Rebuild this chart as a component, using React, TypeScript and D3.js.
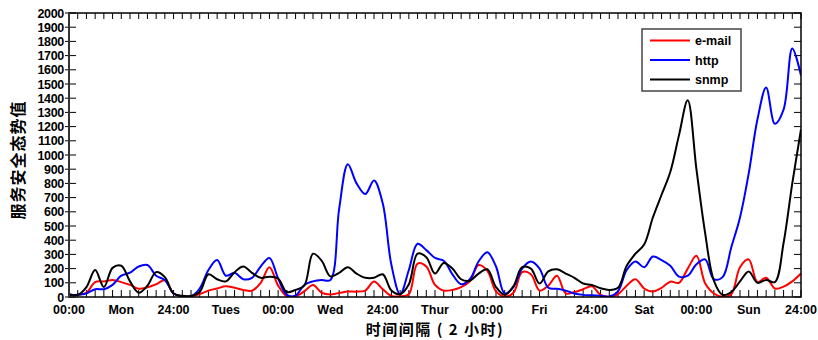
import React from "react";
import * as d3 from "d3";

const xTickLabels = ["00:00", "Mon", "24:00", "Tues", "00:00", "Wed", "24:00", "Thur", "00:00", "Fri", "24:00", "Sat", "00:00", "Sun", "24:00"];
const yTicks = d3.range(0, 2001, 100);
const seriesNames = ["e-mail", "http", "snmp"];
const seriesColors = ["#ff0000", "#0000ff", "#000000"];

const email = [15, 15, 30, 105, 110, 120, 105, 85, 58, 68, 90, 118, 25, 5, 5, 20, 45, 60, 75, 65, 50, 45, 100, 210, 80, 5, 5, 40, 85, 30, 18, 28, 38, 38, 45, 110, 55, 8, 5, 20, 235, 215, 85, 45, 50, 70, 110, 225, 185, 40, 3, 30, 175, 160, 45, 80, 150, 25, 35, 55, 75, 15, 2, 20, 80, 125, 60, 38, 65, 108, 100, 200, 290, 97, 25, 2, 20, 210, 265, 105, 135, 60, 73, 110, 165];
const http = [15, 15, 25, 55, 55, 85, 150, 172, 215, 225, 150, 120, 25, 5, 5, 60, 190, 260, 150, 170, 125, 135, 215, 275, 130, 15, 10, 85, 110, 120, 120, 620, 935, 800, 725, 820, 660, 225, 20, 190, 375, 330, 275, 255, 160, 90, 125, 250, 315, 215, 25, 70, 200, 250, 200, 65, 58, 45, 25, 15, 12, 8, 3, 40, 190, 250, 210, 285, 260, 220, 143, 150, 230, 265, 125, 140, 350, 560, 870, 1250, 1475, 1220, 1320, 1750, 1560];
const snmp = [20, 15, 70, 190, 70, 205, 220, 110, 30, 80, 175, 140, 25, 8, 8, 35, 160, 125, 110, 175, 215, 170, 135, 143, 130, 35, 50, 80, 305, 255, 145, 170, 210, 165, 135, 135, 160, 45, 20, 90, 305, 280, 165, 240, 200, 125, 115, 165, 195, 70, 15, 75, 210, 200, 95, 180, 195, 165, 135, 95, 85, 62, 50, 65, 220, 305, 370, 560, 720, 880, 1140, 1385, 900, 450, 115, 15, 35, 110, 180, 100, 120, 105, 380, 800, 1180];

const W = 818, H = 340;
const L = 69, R = 801, T = 13, B = 297;
const FONT = "'Liberation Sans', Arial, sans-serif";
const CJK = "'Noto Sans CJK SC', sans-serif";

export default function App() {
  const x = d3.scaleLinear().domain([0, 84]).range([L, R]);
  const y = d3.scaleLinear().domain([0, 2000]).range([B, T]);
  const line = d3.line<number>().x((_, i) => x(i)).y((d) => y(d)).curve(d3.curveCatmullRom.alpha(0.5));
  const data = [email, http, snmp];
  const minor = d3.range(0, 85);
  return (
    <svg width={W} height={H} style={{ position: "absolute", left: 0, top: 0, background: "#fff" }}>
      <defs>
        <clipPath id="plot"><rect x={L} y={T} width={R - L} height={B - T} /></clipPath>
      </defs>
      <rect x={0} y={0} width={W} height={H} fill="#fff" />
      {minor.map((i) => (
        <g key={"mt" + i}>
          <line x1={x(i)} x2={x(i)} y1={T} y2={T + 6} stroke="#000" strokeWidth={1} />
          <line x1={x(i)} x2={x(i)} y1={B} y2={B - 7} stroke="#000" strokeWidth={1} />
        </g>
      ))}
      {yTicks.map((v) => (
        <g key={"yt" + v}>
          <line x1={L} x2={L + 7} y1={y(v)} y2={y(v)} stroke="#000" strokeWidth={1} />
          <line x1={R} x2={R - 7} y1={y(v)} y2={y(v)} stroke="#000" strokeWidth={1} />
          <line x1={L - 4} x2={L} y1={y(v)} y2={y(v)} stroke="#000" strokeWidth={1} />
          <text x={L - 5} y={y(v)} dy="0.36em" textAnchor="end" fontFamily={FONT} fontWeight="bold" fontSize={12.5} fill="#000" letterSpacing={-0.3}>{v}</text>
        </g>
      ))}
      <g clipPath="url(#plot)">
        {data.map((d, k) => (
          <path key={seriesNames[k]} d={line(d) || ""} fill="none" stroke={seriesColors[k]} strokeWidth={2} strokeLinejoin="round" />
        ))}
      </g>
      <rect x={L} y={T} width={R - L} height={B - T} fill="none" stroke="#000" strokeWidth={1.5} />
      <line x1={L} x2={L} y1={T} y2={B} stroke="#333" strokeWidth={2} />
      {xTickLabels.map((t, j) => (
        <text key={"xl" + j} x={x(j * 6)} y={314} textAnchor="middle" fontFamily={FONT} fontWeight="bold" fontSize={12.5} fill="#000">{t}</text>
      ))}
      <text x={435} y={335} textAnchor="middle" fontFamily={CJK} fontWeight="bold" fontSize={15} letterSpacing={1.5} fill="#000">时间间隔 ( 2 小时)</text>
      <text transform={`translate(24,160) rotate(-90)`} textAnchor="middle" fontFamily={CJK} fontWeight="bold" fontSize={16} letterSpacing={1} fill="#000">服务安全态势值</text>
      <rect x={642} y={29} width={99} height={62} fill="#fff" stroke="#444" strokeWidth={1.5} />
      {seriesNames.map((n, k) => (
        <g key={"lg" + n}>
          <line x1={650} x2={690} y1={40.5 + k * 19.5} y2={40.5 + k * 19.5} stroke={seriesColors[k]} strokeWidth={2} />
          <text x={695} y={40.5 + k * 19.5} dy="0.36em" fontFamily={FONT} fontWeight="bold" fontSize={12.5} fill="#000">{n}</text>
        </g>
      ))}
    </svg>
  );
}
